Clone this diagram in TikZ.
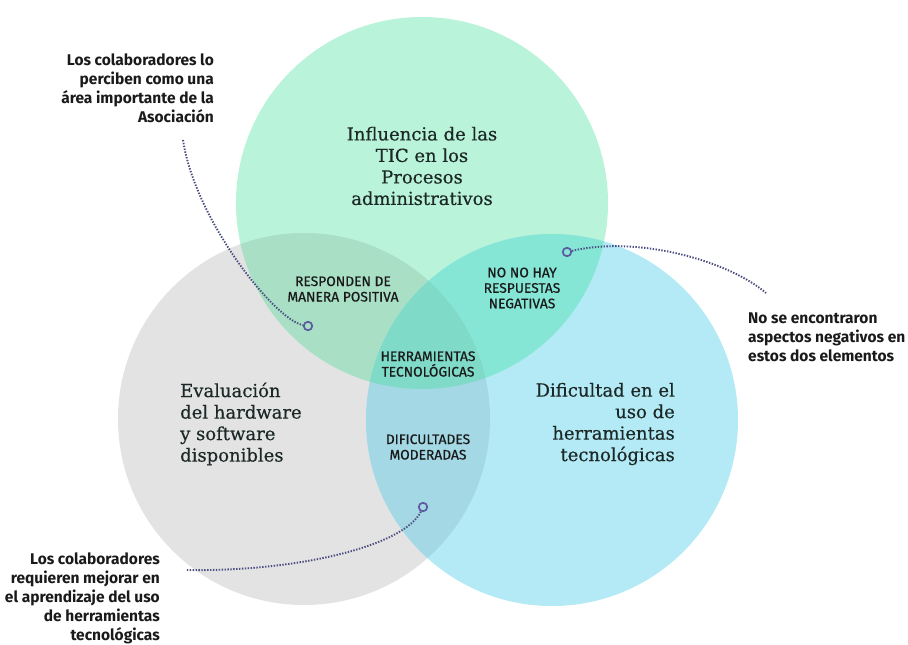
\documentclass[tikz,border=0pt]{standalone}
\usepackage{fontspec}
\setmainfont{DejaVu Serif}
\setsansfont{Fira Sans}
\definecolor{cgreen}{HTML}{B9F3D9}
\definecolor{cgray}{HTML}{E3E3E3}
\definecolor{cblue}{HTML}{B3EAF6}
\definecolor{cGE}{HTML}{A8DFC5}
\definecolor{cGB}{HTML}{86E6D5}
\definecolor{cEB}{HTML}{A4D8E5}
\definecolor{cALL}{HTML}{7FDAC7}
\definecolor{serifc}{HTML}{1B2826}
\definecolor{labelc}{HTML}{1A1A1A}
\definecolor{connc}{HTML}{4A4E80}
\definecolor{dotc}{HTML}{5C5AA0}
\begin{document}
\begin{tikzpicture}[x=1pt,y=-1pt,
  bigtext/.style={text=serifc, font=\addfontfeature{FakeBold=0.4}\fontsize{18}{21.5}\selectfont, inner sep=0pt},
  innerlabel/.style={text=labelc, align=center, inner sep=0pt, font=\sffamily\addfontfeature{FakeBold=0.6}\fontsize{13.8}{15.5}\selectfont},
  sidelabel/.style={text=labelc, inner sep=0pt, font=\sffamily\bfseries\fontsize{15.5}{19}\selectfont},
  enddot/.style={circle, draw=dotc, line width=1.7pt, minimum size=8.5pt, inner sep=0pt},
  conn/.style={draw=connc, line width=1.9pt, dash pattern=on 1.4pt off 1.5pt}]
\fill[white] (0,0) rectangle (908,645);
\useasboundingbox (0,0) rectangle (908,645);
\def\cirG{(422,203) circle (186pt)}
\def\cirE{(304,419) circle (186pt)}
\def\cirB{(552,420) circle (186pt)}
% base circles
\fill[cgray] \cirE;
\fill[cgreen] \cirG;
\fill[cblue] \cirB;
% overlaps
\begin{scope}\clip \cirG; \fill[cGE] \cirE; \end{scope}
\begin{scope}\clip \cirG; \fill[cGB] \cirB; \end{scope}
\begin{scope}\clip \cirE; \fill[cEB] \cirB; \end{scope}
\begin{scope}\clip \cirG; \clip \cirE; \fill[cALL] \cirB; \end{scope}
% circle titles
\node[bigtext, align=center] (tG) at (422,166) {Influencia de las\\TIC en los\\Procesos\\administrativos};
\node[bigtext, align=left, anchor=west] (tE) at (180,424) {Evaluación\\del hardware\\y software\\disponibles};
\node[bigtext, align=right, anchor=east] (tB) at (675,424) {Dificultad en el\\uso de\\herramientas\\tecnológicas};
% intersection labels
\node[innerlabel] (iGE) at (343,289) {RESPONDEN DE\\MANERA POSITIVA};
\node[innerlabel] (iGB) at (522,288) {NO NO HAY\\RESPUESTAS\\NEGATIVAS};
\node[innerlabel] (iALL) at (428,364) {HERRAMIENTAS\\TECNOLÓGICAS};
\node[innerlabel] (iEB) at (428,447) {DIFICULTADES\\MODERADAS};
% side labels
\node[sidelabel, align=right, anchor=east] (sTL) at (214,88) {Los colaboradores lo\\perciben como una\\área importante de la\\Asociación};
\node[sidelabel, align=left, anchor=west] (sR) at (748,337) {No se encontraron\\aspectos negativos en\\estos dos elementos};
\node[sidelabel, align=right, anchor=east] (sBL) at (160,598) {Los colaboradores\\requieren mejorar en\\el aprendizaje del uso\\de herramientas\\tecnológicas};
% connectors
\node[enddot] (d1) at (308,326) {};
\node[enddot] (d2) at (567,252) {};
\node[enddot] (d3) at (423,507) {};
\coordinate (s1) at (183,140);
\coordinate (e2) at (766,293);
\coordinate (e3) at (186,570);
\draw[conn] (s1) .. controls (195,220) and (275,320) .. (d1);
\draw[conn] (d2) .. controls (640,235) and (730,262) .. (e2);
\draw[conn] (d3) .. controls (405,545) and (300,572) .. (e3);
\end{tikzpicture}
\end{document}
